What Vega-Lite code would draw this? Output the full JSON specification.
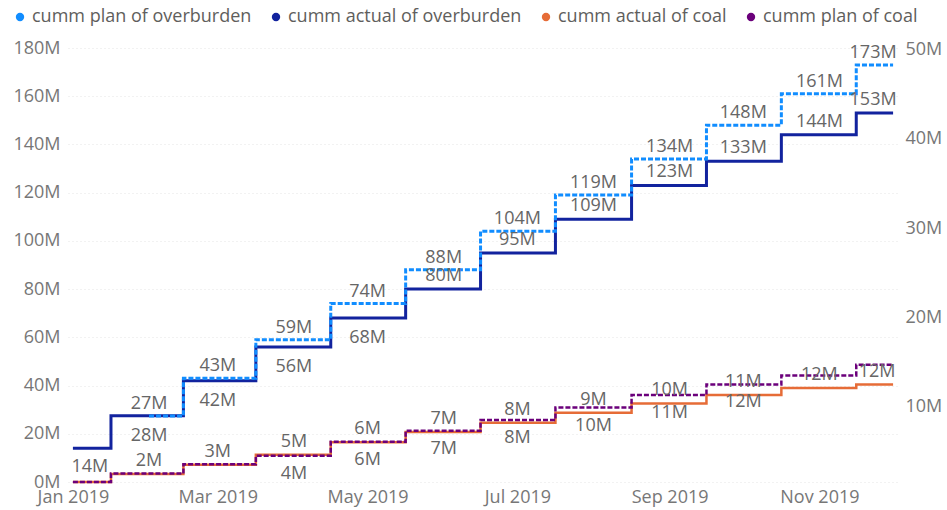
{
  "$schema": "https://vega.github.io/schema/vega-lite/v6.json",
  "width": 830,
  "height": 434,
  "autosize": {"type": "none"},
  "padding": {"left": 68, "top": 48, "right": 49, "bottom": 28},
  "background": "white",
  "config": {"view": {"stroke": null}, "font": "Open Sans", "text": {"font": "Open Sans"}},
  "data": {"values": [
    {"date": "2019-02-01", "series": "cumm plan of overburden", "value": 27.4},
    {"date": "2019-03-01", "series": "cumm plan of overburden", "value": 43},
    {"date": "2019-04-01", "series": "cumm plan of overburden", "value": 59},
    {"date": "2019-05-01", "series": "cumm plan of overburden", "value": 74},
    {"date": "2019-06-01", "series": "cumm plan of overburden", "value": 88},
    {"date": "2019-07-01", "series": "cumm plan of overburden", "value": 104},
    {"date": "2019-08-01", "series": "cumm plan of overburden", "value": 119},
    {"date": "2019-09-01", "series": "cumm plan of overburden", "value": 134},
    {"date": "2019-10-01", "series": "cumm plan of overburden", "value": 148},
    {"date": "2019-11-01", "series": "cumm plan of overburden", "value": 161},
    {"date": "2019-12-01", "series": "cumm plan of overburden", "value": 173},
    {"date": "2019-01-01", "series": "cumm actual of overburden", "value": 14},
    {"date": "2019-02-01", "series": "cumm actual of overburden", "value": 27.5},
    {"date": "2019-03-01", "series": "cumm actual of overburden", "value": 42},
    {"date": "2019-04-01", "series": "cumm actual of overburden", "value": 56},
    {"date": "2019-05-01", "series": "cumm actual of overburden", "value": 68},
    {"date": "2019-06-01", "series": "cumm actual of overburden", "value": 80},
    {"date": "2019-07-01", "series": "cumm actual of overburden", "value": 95},
    {"date": "2019-08-01", "series": "cumm actual of overburden", "value": 109},
    {"date": "2019-09-01", "series": "cumm actual of overburden", "value": 123},
    {"date": "2019-10-01", "series": "cumm actual of overburden", "value": 133},
    {"date": "2019-11-01", "series": "cumm actual of overburden", "value": 144},
    {"date": "2019-12-01", "series": "cumm actual of overburden", "value": 153},
    {"date": "2019-01-01", "series": "cumm actual of coal", "value": 1.55},
    {"date": "2019-02-01", "series": "cumm actual of coal", "value": 2.45},
    {"date": "2019-03-01", "series": "cumm actual of coal", "value": 3.49},
    {"date": "2019-04-01", "series": "cumm actual of coal", "value": 4.6},
    {"date": "2019-05-01", "series": "cumm actual of coal", "value": 6.0},
    {"date": "2019-06-01", "series": "cumm actual of coal", "value": 7.15},
    {"date": "2019-07-01", "series": "cumm actual of coal", "value": 8.2},
    {"date": "2019-08-01", "series": "cumm actual of coal", "value": 9.3},
    {"date": "2019-09-01", "series": "cumm actual of coal", "value": 10.35},
    {"date": "2019-10-01", "series": "cumm actual of coal", "value": 11.3},
    {"date": "2019-11-01", "series": "cumm actual of coal", "value": 12.1},
    {"date": "2019-12-01", "series": "cumm actual of coal", "value": 12.49},
    {"date": "2019-01-01", "series": "cumm plan of coal", "value": 1.55},
    {"date": "2019-02-01", "series": "cumm plan of coal", "value": 2.5},
    {"date": "2019-03-01", "series": "cumm plan of coal", "value": 3.55},
    {"date": "2019-04-01", "series": "cumm plan of coal", "value": 4.49},
    {"date": "2019-05-01", "series": "cumm plan of coal", "value": 6.05},
    {"date": "2019-06-01", "series": "cumm plan of coal", "value": 7.3},
    {"date": "2019-07-01", "series": "cumm plan of coal", "value": 8.49},
    {"date": "2019-08-01", "series": "cumm plan of coal", "value": 9.9},
    {"date": "2019-09-01", "series": "cumm plan of coal", "value": 11.3},
    {"date": "2019-10-01", "series": "cumm plan of coal", "value": 12.49},
    {"date": "2019-11-01", "series": "cumm plan of coal", "value": 13.5},
    {"date": "2019-12-01", "series": "cumm plan of coal", "value": 14.7}
  ]},
  "transform": [
    {"calculate": "format(datum.value, '.0f') + 'M'", "as": "label"},
    {"calculate": "utcmonth(datum.date)", "as": "m"}
  ],
  "encoding": {
    "x": {
      "field": "date", "type": "temporal",
      "scale": {"type": "utc", "domain": [{"year": 2018, "month": 12, "date": 30, "utc": true}, {"year": 2019, "month": 12, "date": 3, "utc": true}]},
      "axis": {
        "values": [
          {"year": 2019, "month": 1, "date": 1, "utc": true},
          {"year": 2019, "month": 3, "date": 1, "utc": true},
          {"year": 2019, "month": 5, "date": 1, "utc": true},
          {"year": 2019, "month": 7, "date": 1, "utc": true},
          {"year": 2019, "month": 9, "date": 1, "utc": true},
          {"year": 2019, "month": 11, "date": 1, "utc": true}
        ],
        "labelExpr": "utcFormat(datum.value, '%b %Y')", "title": null, "domain": false, "ticks": false, "grid": false,
        "labelFontSize": 18, "labelColor": "#777777", "labelPadding": 6, "labelFlush": false, "labelOverlap": false
      }
    }
  },
  "layer": [
    {
      "encoding": {
        "y": {
          "field": "value", "type": "quantitative",
          "scale": {"domain": [0, 180], "nice": false, "zero": false},
          "axis": {
            "orient": "left", "values": [0, 20, 40, 60, 80, 100, 120, 140, 160, 180],
            "labelExpr": "datum.value + 'M'", "title": null, "domain": false, "ticks": false,
            "grid": true, "gridColor": "#e4e4e4", "gridDash": [1, 3], "gridWidth": 1,
            "labelFontSize": 18, "labelColor": "#777777", "labelPadding": 8
          }
        }
      },
      "layer": [
        {
          "transform": [{"filter": "datum.series == 'cumm actual of overburden'"}],
          "mark": {"type": "line", "interpolate": "step", "strokeWidth": 3},
          "encoding": {
            "color": {
              "field": "series", "type": "nominal",
              "scale": {"domain": ["cumm plan of overburden", "cumm actual of overburden", "cumm actual of coal", "cumm plan of coal"], "range": ["#118DFF", "#12239E", "#E66C37", "#6B007B"]},
              "legend": {
                "title": null, "orient": "none", "legendX": -57, "legendY": -40, "direction": "horizontal",
                "symbolType": "circle", "symbolSize": 70, "labelFontSize": 18, "labelColor": "#605E5C", "labelLimit": 0,
                "columnPadding": 15, "labelOffset": 3, "symbolStrokeWidth": 0,
                "encode": {"symbols": {"update": {"fill": {"scale": "color", "field": "value"}, "fillOpacity": {"value": 1}, "strokeWidth": {"value": 0}}}}
              }
            }
          }
        },
        {
          "transform": [{"filter": "datum.series == 'cumm plan of overburden'"}],
          "mark": {"type": "line", "interpolate": "step", "strokeWidth": 3, "strokeDash": [5, 2]},
          "encoding": {"color": {"field": "series", "type": "nominal"}}
        },
        {
          "transform": [{"filter": "datum.series == 'cumm plan of overburden' && datum.m >= 1 && datum.m <= 10"}],
          "mark": {"type": "text", "fontSize": 18, "color": "#666666", "baseline": "middle", "dy": -12},
          "encoding": {"text": {"field": "label"}}
        },
        {
          "transform": [{"filter": "datum.series == 'cumm plan of overburden' && datum.m == 11"}],
          "mark": {"type": "text", "fontSize": 18, "color": "#666666", "baseline": "middle", "dy": -12, "dx": -20},
          "encoding": {"text": {"field": "label"}}
        },
        {
          "transform": [{"filter": "datum.series == 'cumm actual of overburden' && datum.m >= 1 && datum.m <= 4"}],
          "mark": {"type": "text", "fontSize": 18, "color": "#666666", "baseline": "middle", "dy": 20},
          "encoding": {"text": {"field": "label"}}
        },
        {
          "transform": [{"filter": "datum.series == 'cumm actual of overburden' && datum.m == 0"}],
          "mark": {"type": "text", "fontSize": 18, "color": "#666666", "baseline": "middle", "dy": 19, "dx": 17},
          "encoding": {"text": {"field": "label"}}
        },
        {
          "transform": [{"filter": "datum.series == 'cumm actual of overburden' && datum.m >= 5 && datum.m <= 10"}],
          "mark": {"type": "text", "fontSize": 18, "color": "#666666", "baseline": "middle", "dy": -13},
          "encoding": {"text": {"field": "label"}}
        },
        {
          "transform": [{"filter": "datum.series == 'cumm actual of overburden' && datum.m == 11"}],
          "mark": {"type": "text", "fontSize": 18, "color": "#666666", "baseline": "middle", "dy": -13, "dx": -20},
          "encoding": {"text": {"field": "label"}}
        }
      ]
    },
    {
      "encoding": {
        "y": {
          "field": "value", "type": "quantitative",
          "scale": {"domain": [1.55, 50.2], "nice": false, "zero": false},
          "axis": {
            "orient": "right", "values": [10, 20, 30, 40, 50],
            "labelExpr": "datum.value + 'M'", "title": null, "domain": false, "ticks": false, "grid": false,
            "labelFontSize": 18, "labelColor": "#777777", "labelPadding": 7
          }
        }
      },
      "layer": [
        {
          "transform": [{"filter": "datum.series == 'cumm actual of coal'"}],
          "mark": {"type": "line", "interpolate": "step", "strokeWidth": 2.5},
          "encoding": {"color": {"field": "series", "type": "nominal"}}
        },
        {
          "transform": [{"filter": "datum.series == 'cumm plan of coal'"}],
          "mark": {"type": "line", "interpolate": "step", "strokeWidth": 2.5, "strokeDash": [5, 2]},
          "encoding": {"color": {"field": "series", "type": "nominal"}}
        },
        {
          "transform": [{"filter": "datum.series == 'cumm actual of coal' && datum.m >= 1 && datum.m <= 10"}],
          "mark": {"type": "text", "fontSize": 18, "color": "#666666", "baseline": "middle", "dy": -13},
          "encoding": {"text": {"field": "label"}}
        },
        {
          "transform": [{"filter": "datum.series == 'cumm actual of coal' && datum.m == 11"}],
          "mark": {"type": "text", "fontSize": 18, "color": "#666666", "baseline": "middle", "dy": -12, "dx": -16},
          "encoding": {"text": {"field": "label"}}
        },
        {
          "transform": [{"filter": "datum.series == 'cumm plan of coal' && datum.m >= 3 && datum.m <= 9"}],
          "mark": {"type": "text", "fontSize": 18, "color": "#666666", "baseline": "middle", "dy": 18},
          "encoding": {"text": {"field": "label"}}
        }
      ]
    }
  ],
  "resolve": {"scale": {"y": "independent"}, "axis": {"y": "independent"}}
}
